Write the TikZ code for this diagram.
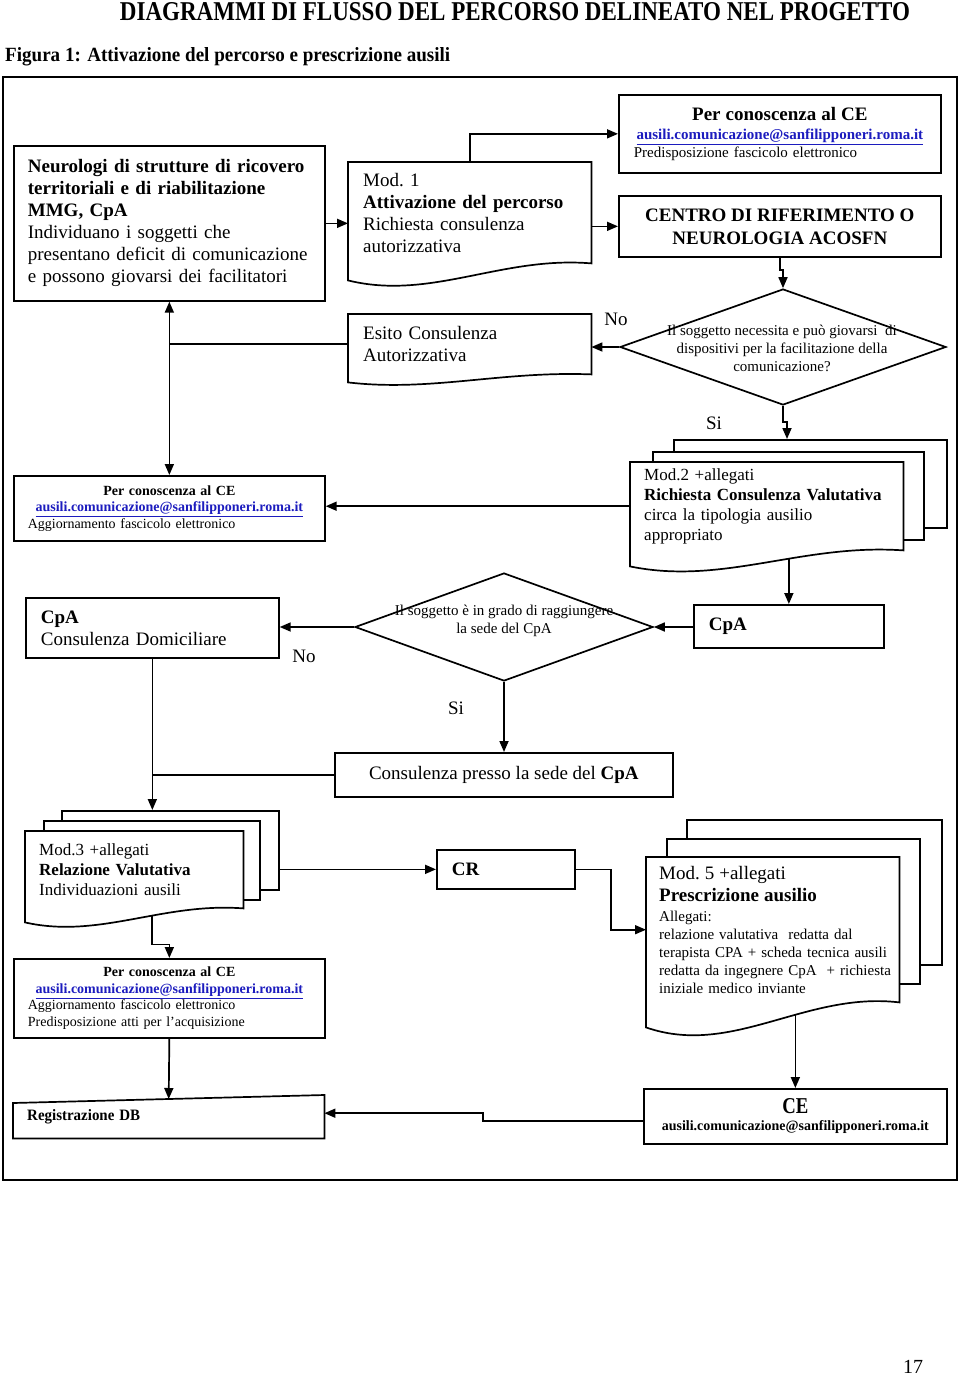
\documentclass[tikz,border=0pt]{standalone}
\usepackage{fontspec}
\usepackage{graphicx}
\setmainfont{Liberation Serif}
\usetikzlibrary{arrows.meta,shapes.geometric,calc}
\pgfdeclarelayer{back}
\pgfdeclarelayer{shapes}
\pgfsetlayers{back,shapes,main}
\definecolor{maillink}{RGB}{28,28,190}
\newcommand{\fs}[2]{\fontsize{#1}{#2}\selectfont}
\newcommand{\ceaddr}{\textcolor{maillink}{\bfseries\underline{ausili.comunicazione@sanfilipponeri.roma.it}}}
% document box: text node #1, wavy bottom dropping #2 on the left
\newcommand{\docoutline}[2]{%
  \begin{pgfonlayer}{shapes}
  \draw[shapeline] ($(#1.south west)+(0,#2)$) -- (#1.north west) -- (#1.north east) -- (#1.south east)
    .. controls ($(#1.south east)!0.37!(#1.south west)+(0,{-0.45*#2})$) and ($(#1.south east)!0.66!(#1.south west)+(0,{2.2*#2})$) .. ($(#1.south west)+(0,#2)$) -- cycle;
  \end{pgfonlayer}}
\tikzset{
  box/.style={draw, line width=1.7pt, inner sep=0pt, anchor=north west, align=left},
  plain/.style={inner sep=0pt, anchor=north west, align=left},
  sheet/.style={draw, fill=white, line width=1.7pt, inner sep=0pt, anchor=north west},
  decision/.style={diamond, draw, line width=1.7pt, inner sep=0pt},
  qtext/.style={align=center, inner sep=0pt, font=\fs{15}{18}},
  shapeline/.style={line width=1.7pt, fill=white},
  conn/.style={line width=1.7pt},
  arr/.style={conn, -{Triangle[length=11pt,width=9pt]}},
  answer/.style={inner sep=0pt, font=\fs{19}{22}},
}
\begin{document}
\begin{tikzpicture}[x=1pt, y=-1pt]
\useasboundingbox (0,0) rectangle (960,1376);
\node[inner sep=0pt, anchor=base] (title) at (515,20) {\resizebox{790pt}{18pt}{\bfseries DIAGRAMMI DI FLUSSO DEL PERCORSO DELINEATO NEL PROGETTO}};
\node[inner sep=0pt, anchor=base west] (figura) at (5,61) {\resizebox{445pt}{14pt}{\bfseries Figura 1: Attivazione del percorso e prescrizione ausili}};
\node[inner sep=0pt, anchor=base, font=\fs{20}{24}] (pagenum) at (913,1373) {17};
\draw[line width=1.7pt] (3,77) rectangle (957,1180);

\node[box, minimum width=311pt, minimum height=155pt, text width=283pt, font=\fs{19}{22}] (neuro) at (13,145)
  {\textbf{Neurologi di strutture di ricovero}\\ \textbf{territoriali e di riabilitazione}\\ \textbf{MMG, CpA}\\ Individuano i soggetti che\\ presentano deficit di comunicazione\\ e possono giovarsi dei facilitatori};
\node[plain, minimum width=243pt, minimum height=101pt, text width=213pt, font=\fs{19}{22}] (mod1) at (348,162)
  {Mod.\ 1\\ \textbf{Attivazione del percorso}\\ Richiesta consulenza\\ autorizzativa};
\docoutline{mod1}{17}
\node[box, minimum width=322pt, minimum height=78pt, text width=292pt, font=\fs{15}{18}] (pc1) at (618,94)
  {\makebox[292pt]{\fs{19}{22}\bfseries Per conoscenza al CE}\\[1pt] \makebox[292pt]{\ceaddr}\\ Predisposizione fascicolo elettronico};
\node[box, minimum width=322pt, minimum height=61pt, align=center, font=\fs{19}{23}\bfseries] (centro) at (618,195)
  {CENTRO DI RIFERIMENTO O\\ NEUROLOGIA ACOSFN};
\node[decision, minimum width=326pt, minimum height=116pt] (q1) at (783,347) {};
\node[qtext] (q1txt) at (782,348) {Il soggetto necessita e può giovarsi\ \ di\\ dispositivi per la facilitazione della\\ comunicazione?};
\node[plain, minimum width=243pt, minimum height=60pt, text width=213pt, font=\fs{19}{22}] (esito) at (348,314)
  {Esito Consulenza\\ Autorizzativa};
\docoutline{esito}{8}
\node[answer] (no1) at (616,319) {No};
\node[answer] (si1) at (714,423) {Si};

\node[box, minimum width=311pt, minimum height=65pt, text width=283pt, font=\fs{14}{16.5}] (pc2) at (13,475)
  {\makebox[283pt]{\bfseries Per conoscenza al CE}\\ \makebox[283pt]{\ceaddr}\\ Aggiornamento fascicolo elettronico};
\begin{pgfonlayer}{shapes}
\foreach \n/\x/\y/\w/\h in {mod2b/673/439/273/88, mod2m/652/451/271/88, mod3b/61/810/217/79, mod3m/43/820/216/79, mod5b/686/819/255/145, mod5m/666/838/253/145}
  \node[sheet, minimum width=\w pt, minimum height=\h pt] (\n) at (\x,\y) {};
\end{pgfonlayer}
\node[plain, minimum width=273pt, minimum height=88pt, text width=245pt, font=\fs{17}{20}] (mod2) at (630,462)
  {Mod.2 +allegati\\ \textbf{Richiesta Consulenza Valutativa}\\ circa la tipologia ausilio\\ appropriato};
\docoutline{mod2}{16}

\node[box, minimum width=190pt, minimum height=43pt, text width=160pt, font=\fs{19}{22}\bfseries] (cpa) at (693,604) {CpA};
\node[decision, minimum width=298pt, minimum height=108pt] (q2) at (504,627) {};
\node[qtext] (q2txt) at (504,621) {Il soggetto è in grado di raggiungere\\ la sede del CpA};
\node[box, minimum width=253pt, minimum height=60pt, text width=223pt, font=\fs{19}{22}] (dom) at (25,597)
  {\textbf{CpA}\\ Consulenza Domiciliare};
\node[answer] (no2) at (304,656) {No};
\node[answer] (si2) at (456,708) {Si};
\node[box, minimum width=338pt, minimum height=44pt, align=center, font=\fs{19}{22}] (presso) at (334,752)
  {Consulenza presso la sede del \textbf{CpA}};

\node[plain, minimum width=218pt, minimum height=77pt, text width=190pt, font=\fs{17}{20}] (mod3) at (25,831)
  {Mod.3 +allegati\\ \textbf{Relazione Valutativa}\\ Individuazioni ausili};
\docoutline{mod3}{14}
\node[box, minimum width=138pt, minimum height=39pt, text width=108pt, font=\fs{19}{22}\bfseries] (cr) at (436,849) {CR};
\node[plain, minimum width=253pt, minimum height=145pt, text width=227pt, font=\fs{15}{18}] (mod5) at (646,857)
  {{\fs{19}{22}Mod.\ 5 +allegati}\\[4pt] {\fs{19}{22}\bfseries Prescrizione ausilio}\\[2pt] Allegati:\\ \mbox{relazione valutativa\ \ redatta dal}\\ \mbox{terapista CPA + scheda tecnica ausili}\\ \mbox{redatta da ingegnere CpA\ \ + richiesta}\\ iniziale medico inviante};
\docoutline{mod5}{25}
\node[box, minimum width=311pt, minimum height=79pt, text width=283pt, font=\fs{14}{16.5}] (pc3) at (13,958)
  {\makebox[283pt]{\bfseries Per conoscenza al CE}\\ \makebox[283pt]{\ceaddr}\\ Aggiornamento fascicolo elettronico\\ Predisposizione atti per l’acquisizione};

\node[plain, minimum width=311pt, minimum height=43pt, text width=283pt] (reg) at (13,1095)
  {\resizebox{113pt}{11pt}{\bfseries Registrazione DB}};
\begin{pgfonlayer}{shapes}
\draw[shapeline] (reg.south west) -- ([yshift=-8pt]reg.north west) -- (reg.north east) -- (reg.south east) -- cycle;
\end{pgfonlayer}
\node[box, minimum width=303pt, minimum height=55pt, align=center, font=\fs{14}{17}] (ce) at (643,1088)
  {\resizebox{26pt}{15pt}{\bfseries CE}\\ \resizebox{267pt}{10pt}{\bfseries ausili.comunicazione@sanfilipponeri.roma.it}};

\begin{pgfonlayer}{back}
\draw[arr] (neuro.east) -- (neuro.east -| mod1.west);
\draw[arr] (mod1.east |- centro.west) -- (centro.west);
\draw[arr] (mod1.north) |- (pc1.west);
\draw[arr] (centro.south) -- ++(0,12) -| (q1.north);
\draw[arr] (q1.west) -- (q1.west -| esito.east);
\draw[conn] (esito.west) -- (esito.west -| neuro.south) coordinate (j1);
\draw[arr] (j1) -- (neuro.south);
\draw[arr] (j1) -- (pc2.north);
\draw[arr] (q1.south) -- ++(0,16) -| ([xshift=4pt]q1.south |- mod2b.north);
\draw[arr] (mod2.west) -- (mod2.west -| pc2.east);
\draw[arr] (mod2.south -| cpa.north) -- (cpa.north);
\draw[arr] (cpa.west |- q2.east) -- (q2.east);
\draw[arr] (q2.west) -- (q2.west -| dom.east);
\draw[arr] (q2.south) -- (q2.south |- presso.north);
\draw[arr] (dom.south) -- (dom.south |- mod3b.north);
\draw[conn] (presso.west) -- (presso.west -| dom.south);
\draw[arr] (cr.west -| mod3b.east) -- (cr.west);
\draw[arr] (cr.east) -- ++(35,0) |- (mod5.west);
\draw[arr] ([xshift=18pt]mod3.south) -- ++(0,36) -| (pc3.north);
\draw[arr] (pc3.south) -- ([yshift=-4pt]reg.north);
\draw[arr] (mod5.south -| ce.north) -- (ce.north);
\draw[arr] ([yshift=-4.5pt]ce.west) -- ++(-160,0) |- ([yshift=3.5pt]reg.east);
\end{pgfonlayer}
\end{tikzpicture}
\end{document}
